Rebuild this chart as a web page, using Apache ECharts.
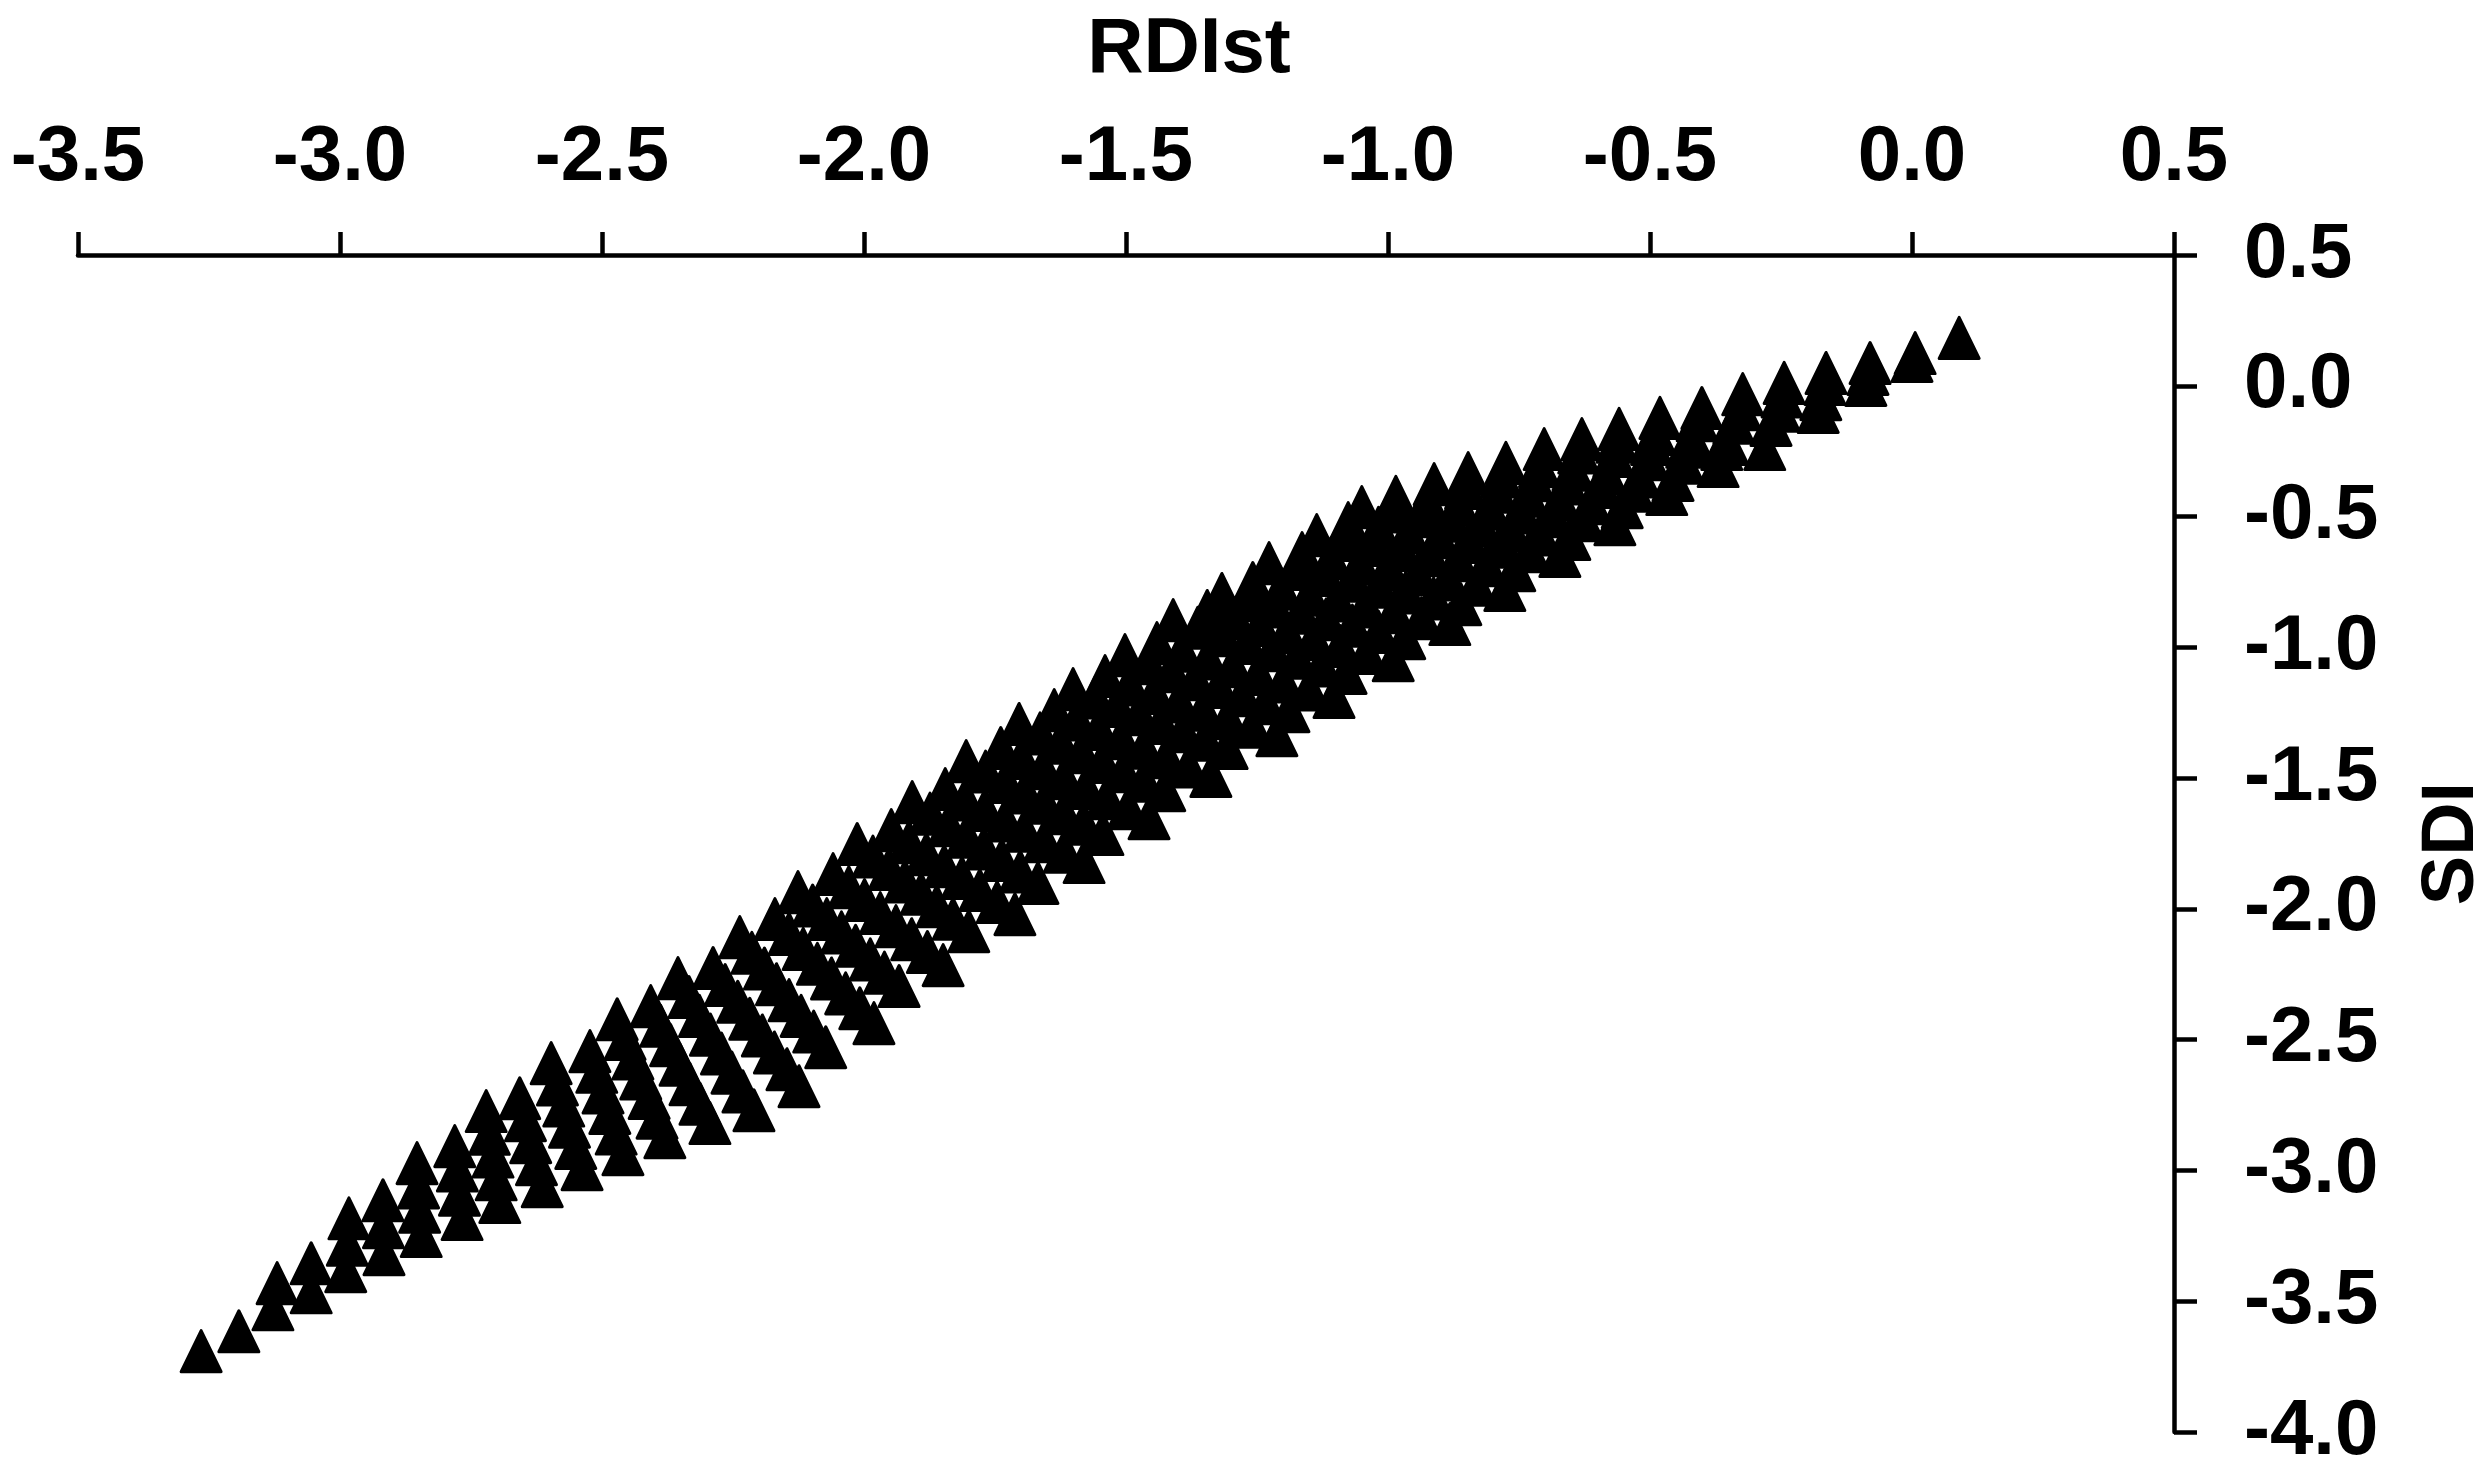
<!DOCTYPE html>
<html>
<head>
<meta charset="utf-8">
<style>html,body{margin:0;padding:0;background:#fff}#c{width:2490px;height:1476px}</style>
<script src="https://cdn.jsdelivr.net/npm/echarts@6/dist/echarts.min.js"></script>
</head>
<body>
<div id="c"></div>
<script>
const xName = 'RDIst';
const yName = 'SDI';
const rdist = [
[-3.265],
[-3.193],
[-3.120,-3.128],
[-3.055,-3.055],
[-2.983,-2.986,-2.989],
[-2.918,-2.917,-2.916],
[-2.853,-2.850,-2.848,-2.845],
[-2.781,-2.776,-2.772,-2.767],
[-2.721,-2.715,-2.708,-2.702,-2.695],
[-2.657,-2.646,-2.636,-2.625,-2.614],
[-2.597,-2.585,-2.573,-2.562,-2.550,-2.538],
[-2.523,-2.510,-2.498,-2.485,-2.473,-2.460],
[-2.471,-2.456,-2.441,-2.426,-2.410,-2.395,-2.380],
[-2.407,-2.388,-2.369,-2.351,-2.332,-2.313,-2.294],
[-2.355,-2.334,-2.314,-2.293,-2.272,-2.252,-2.231,-2.210],
[-2.288,-2.265,-2.241,-2.218,-2.194,-2.171,-2.147,-2.124],
[-2.237,-2.214,-2.190,-2.167,-2.143,-2.120,-2.096,-2.073],
[-2.170,-2.143,-2.116,-2.089,-2.062,-2.035,-2.008,-1.981],
[-2.126,-2.098,-2.071,-2.043,-2.016,-1.988,-1.961,-1.933],
[-2.059,-2.029,-1.999,-1.969,-1.939,-1.909,-1.879,-1.849],
[-2.013,-1.983,-1.952,-1.922,-1.891,-1.861,-1.830,-1.800],
[-1.948,-1.914,-1.881,-1.847,-1.813,-1.779,-1.746,-1.712],
[-1.908,-1.874,-1.839,-1.805,-1.771,-1.737,-1.702,-1.668],
[-1.845,-1.807,-1.769,-1.731,-1.694,-1.656,-1.618,-1.580],
[-1.805,-1.768,-1.730,-1.693,-1.656,-1.619,-1.581,-1.544],
[-1.739,-1.699,-1.658,-1.618,-1.577,-1.537,-1.496,-1.456],
[-1.704,-1.664,-1.625,-1.585,-1.545,-1.505,-1.466,-1.426],
[-1.637,-1.594,-1.552,-1.509,-1.466,-1.423,-1.381,-1.338],
[-1.601,-1.559,-1.517,-1.475,-1.433,-1.391,-1.349,-1.307],
[-1.540,-1.493,-1.446,-1.399,-1.353,-1.306,-1.259,-1.212],
[-1.502,-1.457,-1.413,-1.368,-1.323,-1.278,-1.234,-1.189],
[-1.441,-1.393,-1.344,-1.296,-1.248,-1.200,-1.151,-1.103],
[-1.410,-1.363,-1.316,-1.269,-1.221,-1.174,-1.127,-1.080],
[-1.345,-1.294,-1.244,-1.193,-1.142,-1.091,-1.041,-0.990],
[-1.317,-1.267,-1.217,-1.167,-1.118,-1.068,-1.018,-0.968],
[-1.258,-1.204,-1.150,-1.097,-1.043,-0.989,-0.936,-0.882],
[-1.227,-1.175,-1.122,-1.070,-1.018,-0.966,-0.913,-0.861],
[-1.164,-1.109,-1.053,-0.998,-0.943,-0.887,-0.832,-0.777],
[-1.136,-1.082,-1.028,-0.974,-0.920,-0.866,-0.812,-0.758],
[-1.076,-1.018,-0.961,-0.903,-0.845,-0.787,-0.730,-0.672],
[-1.050,-0.993,-0.936,-0.880,-0.823,-0.766,-0.710,-0.653],
[-0.985,-0.925,-0.865,-0.806,-0.746,-0.686,-0.627,-0.567],
[-0.912,-0.852,-0.792,-0.733,-0.673,-0.613,-0.553],
[-0.847,-0.784,-0.721,-0.658,-0.594,-0.531,-0.468],
[-0.775,-0.711,-0.647,-0.584,-0.520,-0.456],
[-0.702,-0.636,-0.569,-0.503,-0.436,-0.370],
[-0.630,-0.563,-0.497,-0.430,-0.363],
[-0.559,-0.490,-0.420,-0.351,-0.281],
[-0.481,-0.410,-0.340,-0.269],
[-0.401,-0.327,-0.253,-0.179],
[-0.323,-0.248,-0.174],
[-0.244,-0.166,-0.088],
[-0.164,-0.084],
[-0.080,0.000],
[0.006],
[0.090]
];
const sdi = [
[-3.691],
[-3.615],
[-3.431,-3.531],
[-3.355,-3.466],
[-3.183,-3.284,-3.385],
[-3.114,-3.217,-3.320],
[-2.972,-3.065,-3.158,-3.251],
[-2.907,-3.000,-3.093,-3.186],
[-2.773,-2.860,-2.947,-3.034,-3.121],
[-2.724,-2.808,-2.892,-2.976,-3.060],
[-2.590,-2.671,-2.752,-2.833,-2.914,-2.995],
[-2.544,-2.623,-2.702,-2.780,-2.859,-2.938],
[-2.422,-2.497,-2.572,-2.648,-2.723,-2.798,-2.873],
[-2.372,-2.447,-2.521,-2.596,-2.670,-2.745,-2.819],
[-2.265,-2.337,-2.409,-2.481,-2.553,-2.626,-2.698,-2.770],
[-2.226,-2.291,-2.355,-2.420,-2.484,-2.549,-2.613,-2.678],
[-2.108,-2.168,-2.228,-2.288,-2.349,-2.409,-2.469,-2.529],
[-2.039,-2.096,-2.153,-2.210,-2.266,-2.323,-2.380,-2.437],
[-1.936,-1.987,-2.039,-2.090,-2.141,-2.193,-2.244,-2.295],
[-1.867,-1.917,-1.966,-2.016,-2.066,-2.116,-2.165,-2.215],
[-1.752,-1.800,-1.847,-1.895,-1.942,-1.990,-2.038,-2.085],
[-1.699,-1.745,-1.791,-1.837,-1.882,-1.928,-1.974,-2.020],
[-1.592,-1.636,-1.680,-1.724,-1.769,-1.813,-1.857,-1.901],
[-1.542,-1.582,-1.622,-1.662,-1.701,-1.741,-1.781,-1.821],
[-1.435,-1.475,-1.515,-1.555,-1.594,-1.634,-1.674,-1.714],
[-1.385,-1.423,-1.462,-1.500,-1.538,-1.577,-1.615,-1.653],
[-1.293,-1.329,-1.365,-1.401,-1.438,-1.474,-1.510,-1.546],
[-1.240,-1.276,-1.312,-1.348,-1.384,-1.420,-1.456,-1.492],
[-1.160,-1.192,-1.224,-1.256,-1.289,-1.321,-1.353,-1.385],
[-1.110,-1.142,-1.175,-1.207,-1.239,-1.271,-1.304,-1.336],
[-1.030,-1.061,-1.091,-1.122,-1.152,-1.183,-1.214,-1.244],
[-0.984,-1.013,-1.043,-1.072,-1.102,-1.131,-1.161,-1.190],
[-0.896,-0.925,-0.954,-0.983,-1.011,-1.040,-1.069,-1.098],
[-0.861,-0.888,-0.915,-0.942,-0.968,-0.995,-1.022,-1.049],
[-0.796,-0.820,-0.844,-0.868,-0.893,-0.917,-0.941,-0.965],
[-0.754,-0.776,-0.799,-0.821,-0.844,-0.866,-0.889,-0.911],
[-0.678,-0.700,-0.723,-0.745,-0.768,-0.790,-0.813,-0.835],
[-0.640,-0.660,-0.680,-0.700,-0.721,-0.741,-0.761,-0.781],
[-0.571,-0.590,-0.609,-0.628,-0.648,-0.667,-0.686,-0.705],
[-0.525,-0.543,-0.561,-0.579,-0.597,-0.615,-0.633,-0.651],
[-0.464,-0.481,-0.499,-0.516,-0.534,-0.551,-0.569,-0.586],
[-0.425,-0.440,-0.455,-0.470,-0.484,-0.499,-0.514,-0.529],
[-0.376,-0.391,-0.405,-0.420,-0.435,-0.449,-0.464],
[-0.334,-0.347,-0.361,-0.374,-0.387,-0.401,-0.414],
[-0.295,-0.308,-0.321,-0.334,-0.347,-0.360],
[-0.242,-0.255,-0.268,-0.281,-0.294,-0.307],
[-0.204,-0.214,-0.223,-0.233,-0.242],
[-0.165,-0.184,-0.204,-0.223,-0.242],
[-0.123,-0.132,-0.141,-0.150],
[-0.085,-0.090,-0.095,-0.100],
[-0.032,-0.041,-0.051],
[0.011,0.007,0.003],
[0.049,0.045],
[0.087,0.095],
[0.125],
[0.183]
];

const points = [];
rdist.forEach((row, i) => row.forEach((x, k) => points.push([x, sdi[i][k]])));

const font = 'Liberation Sans';
const axisLine = { lineStyle: { color: '#000', width: 4.5 }, onZero: false };
const axisTick = { show: true, inside: false, length: 23, lineStyle: { color: '#000', width: 4.5 } };
const label = (margin) => ({
  show: true, margin, color: '#000', fontFamily: font, fontWeight: 'bold', fontSize: 78,
  formatter: v => Number(v).toFixed(1)
});

const chart = echarts.init(document.getElementById('c'), null, { renderer: 'canvas' });
chart.setOption({
  animation: false,
  backgroundColor: '#fff',
  grid: { left: 78, top: 255, width: 2096, height: 1177, containLabel: false, outerBoundsMode: 'none' },
  xAxis: {
    type: 'value', position: 'top', min: -3.5, max: 0.5, interval: 0.5,
    axisLine, axisTick, axisLabel: label(58), splitLine: { show: false },
    name: xName, nameLocation: 'middle', nameGap: 166,
    nameTextStyle: { color: '#000', fontFamily: font, fontWeight: 'bold', fontSize: 78, padding: [0, 0, 0, 126] }
  },
  yAxis: {
    type: 'value', position: 'right', min: -4, max: 0.5, interval: 0.5,
    axisLine, axisTick, axisLabel: label(70), splitLine: { show: false },
    name: yName, nameLocation: 'middle', nameRotate: 90, nameGap: 242,
    nameTextStyle: { color: '#000', fontFamily: font, fontWeight: 'bold', fontSize: 74 }
  },
  series: [{
    type: 'scatter', data: points, symbol: 'triangle', symbolSize: [40, 41],
    itemStyle: { color: '#000', opacity: 1, borderColor: '#000', borderWidth: 3, borderJoin: 'round' },
    clip: false, silent: true
  }]
});
</script>
</body>
</html>
